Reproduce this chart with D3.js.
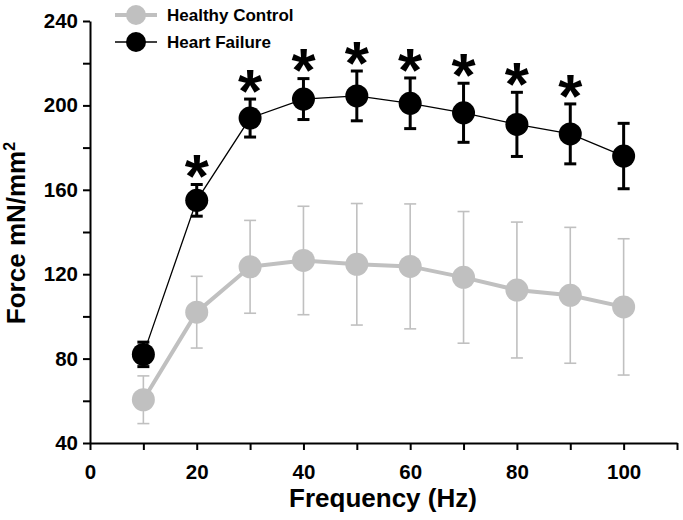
<!DOCTYPE html>
<html>
<head>
<meta charset="utf-8">
<script src="https://cdn.jsdelivr.net/npm/d3@7"></script>
<style>
  body { margin: 0; background: #fff; }
  svg { display: block; font-family: "Liberation Sans", Arial, sans-serif; }
  .axis path, .axis line { stroke: #000; stroke-width: 2; }
  .axis text { font-size: 20.5px; font-weight: bold; fill: #000; }
</style>
</head>
<body>
<svg id="chart" width="683" height="520"></svg>
<script>
// frequency (Hz)
var FREQ = [10, 20, 30, 40, 50, 60, 70, 80, 90, 100];
// heart failure, mean and error (mN/mm2)
var HF_MEAN = [82, 155, 194, 203, 204.5, 201, 196.5, 191, 186.5, 176];
var HF_ERR  = [5.8, 7.5, 9, 9.7, 11.8, 12, 14, 15.2, 14.2, 15.5];
// healthy control
var HC_MEAN = [60.5, 102, 123.5, 126.5, 124.7, 123.7, 118.5, 112.5, 110, 104.5];
var HC_ERR  = [11.3, 17, 22, 25.7, 28.8, 29.6, 31.2, 32.2, 32.2, 32.3];
// frequencies marked significant
var SIG_FREQ = [20, 30, 40, 50, 60, 70, 80, 90];

var X_TICKS = [0, 10, 20, 30, 40, 50, 60, 70, 80, 90, 100, 110];
var X_LABELS = [0, 20, 40, 60, 80, 100];
var Y_TICKS = [40, 60, 80, 100, 120, 140, 160, 180, 200, 220, 240];
var Y_LABELS = [40, 80, 120, 160, 200, 240];

var SERIES = [
    {name: 'Healthy Control', mean: HC_MEAN, err: HC_ERR, color: '#c0c0c0', lineW: 4, errW: 1.6},
    {name: 'Heart Failure', mean: HF_MEAN, err: HF_ERR, color: '#000', lineW: 1.3, errW: 3}
];

var svg = d3.select('#chart');

var x = d3.scaleLinear().domain([0, 110]).range([90, 677]);
var y = d3.scaleLinear().domain([40, 240]).range([443, 21]);

svg.append('g')
    .attr('class', 'axis')
    .attr('transform', 'translate(0,' + y(40) + ')')
    .call(d3.axisBottom(x).tickValues(X_TICKS).tickSize(7).tickSizeOuter(0).tickPadding(14)
        .tickFormat(function(d){ return X_LABELS.indexOf(d) >= 0 ? d : ''; }));

svg.append('g')
    .attr('class', 'axis')
    .attr('transform', 'translate(' + x(0) + ',0)')
    .call(d3.axisLeft(y).tickValues(Y_TICKS).tickSize(7).tickSizeOuter(0).tickPadding(5)
        .tickFormat(function(d){ return Y_LABELS.indexOf(d) >= 0 ? d : ''; }));

var R = 11.5, CAP = 6;

SERIES.forEach(function(s){
    var pts = FREQ.map(function(f, i){ return {f: f, m: s.mean[i], e: s.err[i]}; });
    var g = svg.append('g');

    // error bars
    var eb = g.selectAll('.eb').data(pts).enter().append('g')
        .attr('stroke', s.color).attr('stroke-width', s.errW);
    eb.append('line')
        .attr('x1', function(d){ return x(d.f); }).attr('x2', function(d){ return x(d.f); })
        .attr('y1', function(d){ return y(d.m - d.e); }).attr('y2', function(d){ return y(d.m + d.e); });
    eb.append('line')
        .attr('x1', function(d){ return x(d.f) - CAP; }).attr('x2', function(d){ return x(d.f) + CAP; })
        .attr('y1', function(d){ return y(d.m + d.e); }).attr('y2', function(d){ return y(d.m + d.e); });
    eb.append('line')
        .attr('x1', function(d){ return x(d.f) - CAP; }).attr('x2', function(d){ return x(d.f) + CAP; })
        .attr('y1', function(d){ return y(d.m - d.e); }).attr('y2', function(d){ return y(d.m - d.e); });

    g.append('path')
        .datum(pts)
        .attr('fill', 'none')
        .attr('stroke', s.color)
        .attr('stroke-width', s.lineW)
        .attr('d', d3.line().x(function(d){ return x(d.f); }).y(function(d){ return y(d.m); }));

    g.selectAll('circle').data(pts).enter().append('circle')
        .attr('cx', function(d){ return x(d.f); })
        .attr('cy', function(d){ return y(d.m); })
        .attr('r', R)
        .attr('fill', s.color);
});

// significance stars above the heart failure bars
var STAR = 62;
svg.selectAll('.star').data(SIG_FREQ).enter().append('text')
    .attr('class', 'star')
    .attr('x', function(f){ return x(f); })
    .attr('y', function(f){
        var i = FREQ.indexOf(f);
        return y(HF_MEAN[i] + HF_ERR[i]) - 22 + 0.56 * STAR;
    })
    .attr('text-anchor', 'middle')
    .style('font-size', STAR + 'px')
    .style('font-weight', 'bold')
    .text('*');

// legend
var leg = svg.append('g');
SERIES.forEach(function(s, i){
    var ly = 15 + i * 27;
    leg.append('line').attr('x1', 115).attr('x2', 157).attr('y1', ly).attr('y2', ly)
        .attr('stroke', s.color).attr('stroke-width', s.lineW);
    leg.append('circle').attr('cx', 136).attr('cy', ly).attr('r', 10).attr('fill', s.color);
    leg.append('text').attr('x', 167).attr('y', ly + 6)
        .style('font-size', '17px').style('font-weight', 'bold')
        .text(s.name);
});

// axis titles
svg.append('text')
    .attr('x', 383).attr('y', 507)
    .attr('text-anchor', 'middle')
    .style('font-size', '26px').style('font-weight', 'bold')
    .text('Frequency (Hz)');

var yt = svg.append('text')
    .attr('transform', 'translate(25,233) rotate(-90)')
    .attr('text-anchor', 'middle')
    .style('font-size', '26px').style('font-weight', 'bold');
yt.append('tspan').text('Force mN/mm');
yt.append('tspan').attr('dy', -10).style('font-size', '16px').text('2');
</script>
</body>
</html>
